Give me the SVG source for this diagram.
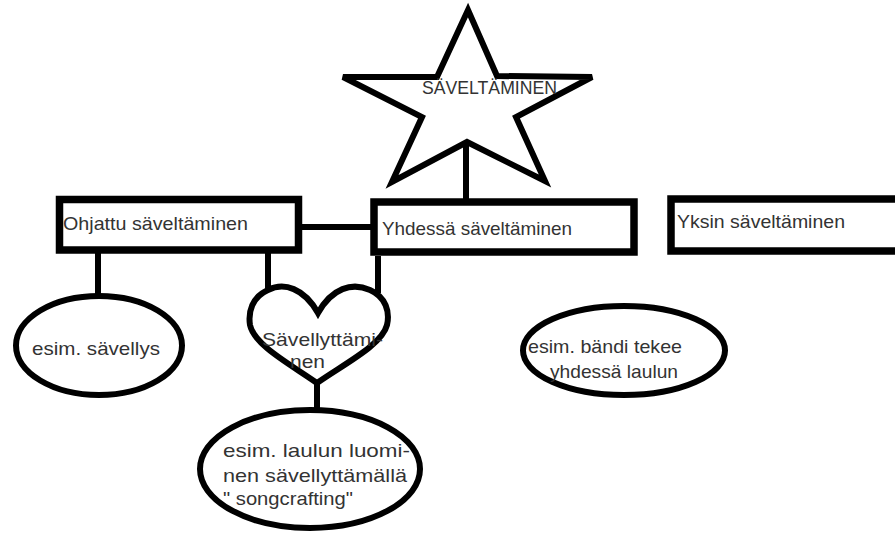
<svg xmlns="http://www.w3.org/2000/svg" width="895" height="533" viewBox="0 0 895 533">
<style>
.shape{fill:#fff;stroke:#000;stroke-width:6;stroke-linejoin:miter}
.box{fill:#fff;stroke:#000;stroke-width:7.5}
.conn{stroke:#000;stroke-width:6;fill:none}
text{font-family:"Liberation Sans",Arial,sans-serif;fill:#333;font-size:19px}
</style>
<rect width="895" height="533" fill="#fff"/>
<g id="connectors">
<line class="conn" x1="466" y1="142" x2="466" y2="199" stroke-width="4"/>
<line class="conn" x1="302" y1="227" x2="371" y2="227" stroke-width="4"/>
<line class="conn" x1="98" y1="253" x2="98" y2="294"/>
<line class="conn" x1="268" y1="253" x2="268" y2="292"/>
<line class="conn" x1="378" y1="256" x2="378" y2="293"/>
<line class="conn" x1="317" y1="382" x2="317" y2="409" stroke-width="5"/>
</g>
<g id="star">
<polygon class="shape" points="468,10 497,76 592,77 516,117 545,181 467,142 392,182 422,117 343,77 437,77"/>
<text x="422" y="94" font-size="17" textLength="135" lengthAdjust="spacingAndGlyphs">SÄVELTÄMINEN</text>
</g>
<g id="ohjattu">
<rect class="box" x="59.5" y="199.5" width="239" height="50.5"/>
<text x="63" y="230" textLength="185" lengthAdjust="spacingAndGlyphs">Ohjattu säveltäminen</text>
</g>
<g id="yhdessa">
<rect class="box" x="374" y="202" width="260" height="50"/>
<text x="382" y="235" textLength="190" lengthAdjust="spacingAndGlyphs">Yhdessä säveltäminen</text>
</g>
<g id="yksin">
<rect class="box" x="671" y="199" width="240" height="52"/>
<text x="677" y="228" textLength="168" lengthAdjust="spacingAndGlyphs">Yksin säveltäminen</text>
</g>
<g id="savellys">
<ellipse class="shape" cx="99" cy="345.5" rx="83" ry="49.5"/>
<text x="32" y="355" textLength="128" lengthAdjust="spacingAndGlyphs">esim. sävellys</text>
</g>
<g id="savellyttaminen">
<path class="shape" d="M318 313 C304 288 284 282 268 290 C252 297 248 312 250 325 C254 345 290 364 317 383 C344 364 382 345 387 325 C390 312 386 297 370 290 C352 282 332 288 318 313 Z"/>
<text x="262" y="346" textLength="121" lengthAdjust="spacingAndGlyphs">Sävellyttämi-</text>
<text x="290" y="368" textLength="35" lengthAdjust="spacingAndGlyphs">nen</text>
</g>
<g id="songcrafting">
<ellipse class="shape" cx="310" cy="469" rx="110" ry="59"/>
<text x="223" y="457" textLength="187" lengthAdjust="spacingAndGlyphs">esim. laulun luomi-</text>
<text x="223" y="482" textLength="184" lengthAdjust="spacingAndGlyphs">nen sävellyttämällä</text>
<text x="223" y="505" textLength="130" lengthAdjust="spacingAndGlyphs">" songcrafting"</text>
</g>
<g id="bandi">
<ellipse class="shape" cx="624" cy="350.5" rx="101" ry="44.5"/>
<text x="528" y="353" textLength="154" lengthAdjust="spacingAndGlyphs">esim. bändi tekee</text>
<text x="550" y="378" textLength="128" lengthAdjust="spacingAndGlyphs">yhdessä laulun</text>
</g>
</svg>
